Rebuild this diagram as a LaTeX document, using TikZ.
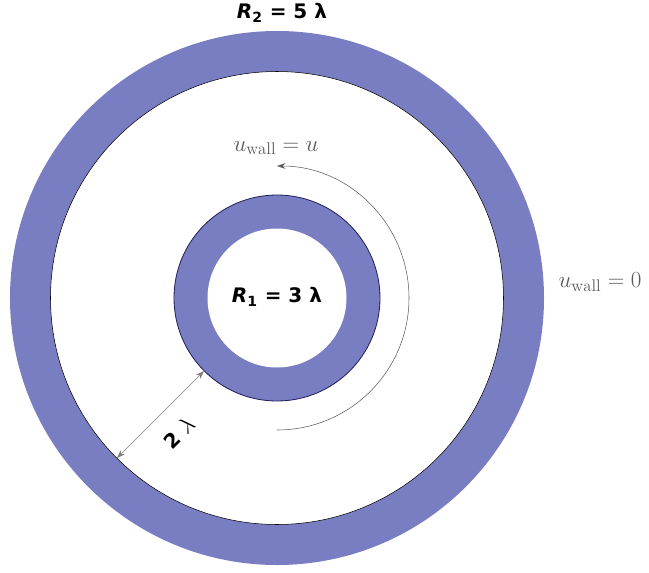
\documentclass[tikz,border=0pt]{standalone}
\usepackage{amsmath}
\usepackage{fontspec}
\usepackage{tikz}
\usetikzlibrary{arrows.meta,positioning}
\newfontfamily\etiq{DejaVu Sans}
\definecolor{lila}{RGB}{121,125,193}
\definecolor{marino}{RGB}{30,30,90}
\definecolor{grisosc}{RGB}{90,90,90}

\begin{document}
\begin{tikzpicture}[x=0.75pt,y=0.75pt,
disco/.style={circle,inner sep=0pt,outer sep=0pt,fill=lila},
hueco/.style={circle,inner sep=0pt,outer sep=0pt,fill=white},
rotulo/.style={font=\etiq\bfseries\fontsize{15}{18}\selectfont,inner sep=1pt},
mate/.style={font=\fontsize{18}{22}\selectfont,inner sep=1pt,text=grisosc},
flecha/.style={-{Stealth[length=2.2mm,width=1.5mm]},draw=grisosc,line width=0.4pt},
cota/.style={{Stealth[length=2.2mm,width=1.5mm]}-{Stealth[length=2.2mm,width=1.5mm]},draw=gray,line width=0.5pt}
]
\useasboundingbox (-277,-274) rectangle (372,298);
\node[disco,minimum size=400.5pt] (pared2) at (0,0) {};
\node[hueco,draw=black,line width=0.4pt,minimum size=339.75pt] (fluido) at (0,0) {};
\node[disco,draw=marino,line width=0.6pt,minimum size=154.5pt] (pared1) at (0,0) {};
\node[hueco,minimum size=104.25pt] (centro) at (0,0) {};

\node[rotulo] (r2) at (5,285) {{\itshape R}\textsubscript{2} = 5 λ};
\node[rotulo] (r1) at (0,1) {{\itshape R}\textsubscript{1} = 3 λ};
\node[mate] (uin) at (-1,150) {$u_{\mathrm{wall}} = u$};
\node[mate] (uout) at (323,16) {$u_{\mathrm{wall}} = 0$};

\coordinate (giro) at (0,-132);
\draw[flecha] (giro) arc[start angle=-90,end angle=90,radius=132];
\draw[cota] (fluido.225) -- (pared1.225) node[rotulo,midway,sloped,below=12pt] {2 {\fontsize{19}{20}\selectfont$\lambda$}};
\end{tikzpicture}
\end{document}
